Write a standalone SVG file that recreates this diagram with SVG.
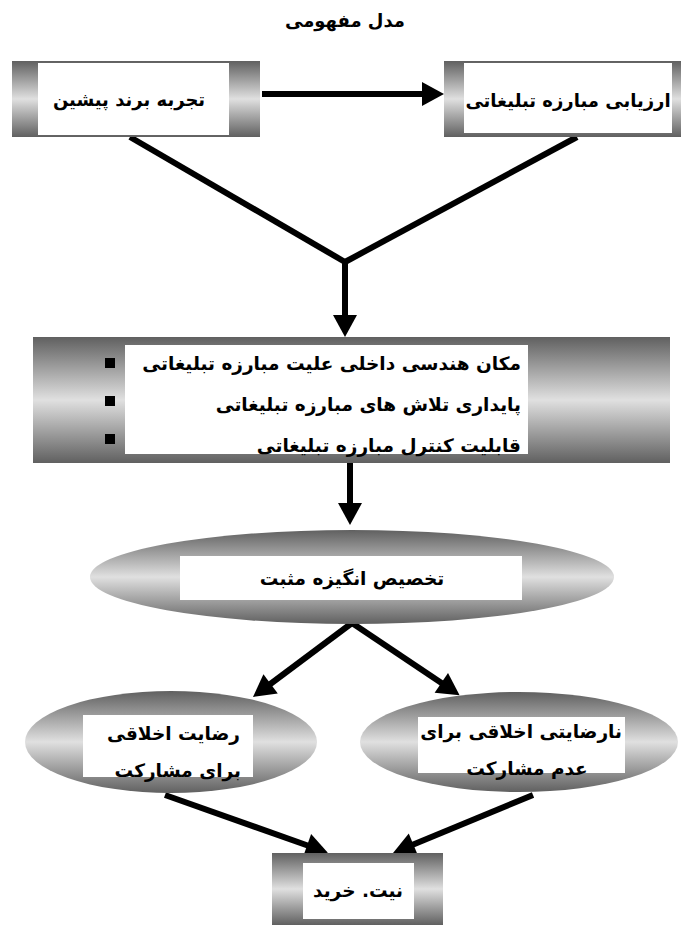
<svg xmlns="http://www.w3.org/2000/svg" width="681" height="929" viewBox="0 0 681 929">
<style>
  .t { font-family: "DejaVu Sans", sans-serif; font-weight: bold; font-size: 18.5px; fill: #000; }
  .s { font-size: 18px; }
  .c { text-anchor: middle; }
  .e { text-anchor: end; }
  .w { fill: #fff; }
  .g { fill: url(#vg); }
  .ln { stroke: #000; stroke-width: 6; fill: none; }
  .ar { marker-end: url(#ah); }
</style>
<defs>
  <linearGradient id="vg" x1="0" y1="0" x2="0" y2="1">
    <stop offset="0" stop-color="#606060"/>
    <stop offset="0.5" stop-color="#e0e0e0"/>
    <stop offset="1" stop-color="#606060"/>
  </linearGradient>
  <marker id="ah" markerUnits="userSpaceOnUse" markerWidth="24" markerHeight="24" refX="2" refY="12" orient="auto" overflow="visible">
    <path d="M0,0 L22,12 L0,24 z" fill="#000"/>
  </marker>
</defs>
<rect width="681" height="929" fill="#fff"/>

<text id="title" class="t c s" x="345" y="27">مدل مفهومی</text>

<g id="connectors">
  <line class="ln ar" x1="262" y1="94" x2="424" y2="94"/>
  <line class="ln" x1="130" y1="137" x2="345" y2="262"/>
  <line class="ln" x1="577" y1="137" x2="345" y2="262"/>
  <line class="ln ar" x1="345" y1="259" x2="345" y2="317"/>
  <line class="ln ar" x1="350" y1="463" x2="350" y2="505"/>
  <line class="ln ar" x1="352" y1="623" x2="269" y2="685"/>
  <line class="ln ar" x1="352" y1="623" x2="443" y2="684"/>
  <line class="ln ar" x1="165" y1="795" x2="309" y2="846"/>
  <line class="ln ar" x1="533" y1="795" x2="411.5" y2="845.3"/>
</g>

<g id="node-brand-experience">
  <rect class="g" x="12" y="61" width="248" height="76"/>
  <rect class="w" x="38" y="63" width="191" height="72"/>
  <text class="t c s" x="129" y="106">تجربه برند پیشین</text>
</g>

<g id="node-campaign-evaluation">
  <rect class="g" x="444" y="61" width="240" height="76"/>
  <rect class="w" x="464" y="63" width="208" height="70"/>
  <text class="t c s" x="568" y="107">ارزیابی مبارزه تبلیغاتی</text>
</g>

<g id="node-attribution">
  <rect class="g" x="33" y="337" width="637" height="126"/>
  <rect class="w" x="125" y="345" width="403" height="109"/>
  <rect x="105" y="358" width="10" height="10" fill="#000"/>
  <rect x="105" y="396" width="10" height="10" fill="#000"/>
  <rect x="105" y="434" width="10" height="10" fill="#000"/>
  <text class="t e" x="521" y="370" font-size="19.5">مکان هندسی داخلی علیت مبارزه تبلیغاتی</text>
  <text class="t e" x="521" y="411" font-size="19.5">پایداری تلاش های مبارزه تبلیغاتی</text>
  <text class="t e" x="521" y="452" font-size="19.5">قابلیت کنترل مبارزه تبلیغاتی</text>
</g>

<g id="node-positive-motivation">
  <ellipse class="g" cx="352" cy="577" rx="262" ry="47"/>
  <rect class="w" x="180" y="556" width="342" height="44"/>
  <text class="t c" x="352" y="585">تخصیص انگیزه مثبت</text>
</g>

<g id="node-moral-satisfaction">
  <ellipse class="g" cx="171" cy="742" rx="146" ry="51"/>
  <rect class="w" x="83" y="715" width="170" height="62"/>
  <text class="t e" x="240" y="740">رضایت اخلاقی</text>
  <text class="t e" x="241" y="777">برای مشارکت</text>
</g>

<g id="node-moral-dissatisfaction">
  <ellipse class="g" cx="519" cy="742" rx="159" ry="50"/>
  <rect class="w" x="418" y="717" width="207" height="56"/>
  <text class="t e" x="622" y="738" font-size="19.5">نارضایتی اخلاقی برای</text>
  <text class="t c" x="527" y="775">عدم مشارکت</text>
</g>

<g id="node-purchase-intention">
  <rect class="g" x="272" y="853" width="171" height="72"/>
  <rect class="w" x="303" y="863" width="111" height="56"/>
  <text class="t c" x="358" y="897">نیت. خرید</text>
</g>
</svg>
